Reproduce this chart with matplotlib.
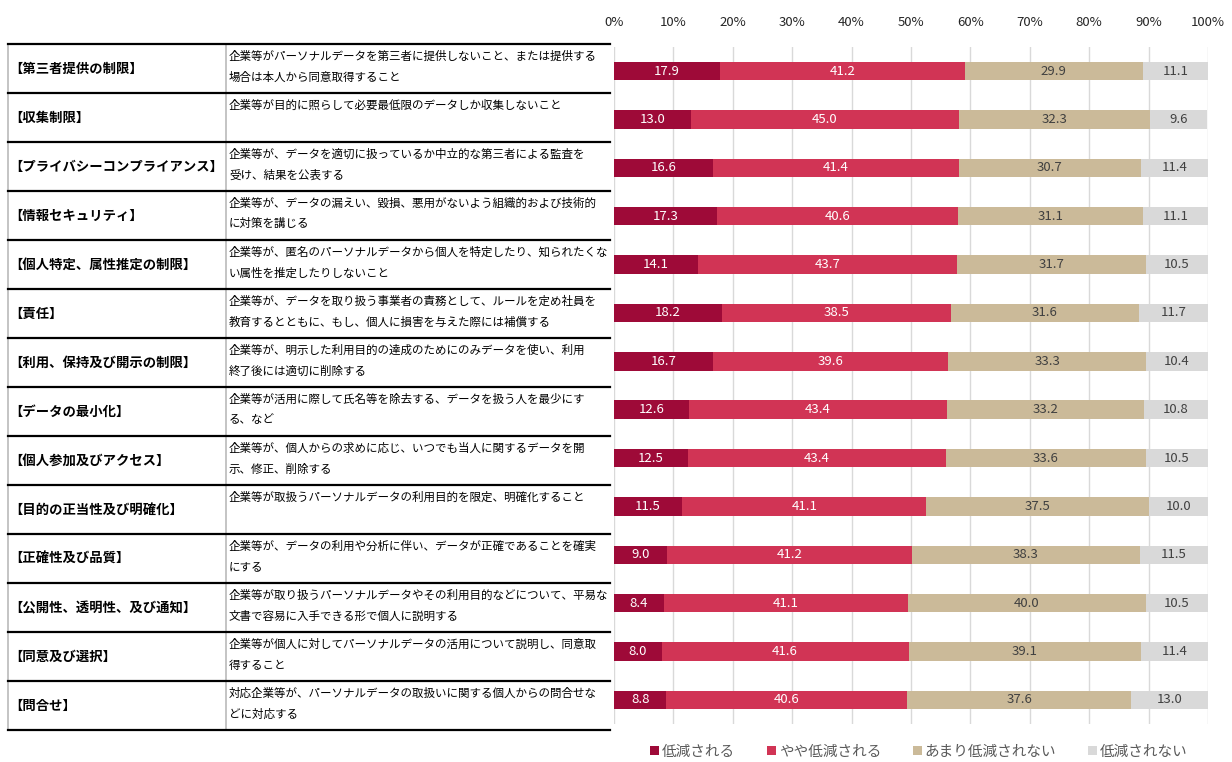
import matplotlib
matplotlib.use("Agg")
import matplotlib.pyplot as plt
from matplotlib.lines import Line2D
from matplotlib.patches import Patch
from matplotlib.ticker import FuncFormatter

plt.rcParams['font.family'] = ['Noto Sans CJK JP', 'DejaVu Sans']

# data
categories = [
    '【第三者提供の制限】', '【収集制限】', '【プライバシーコンプライアンス】', '【情報セキュリティ】',
    '【個人特定、属性推定の制限】', '【責任】', '【利用、保持及び開示の制限】', '【データの最小化】',
    '【個人参加及びアクセス】', '【目的の正当性及び明確化】', '【正確性及び品質】',
    '【公開性、透明性、及び通知】', '【同意及び選択】', '【問合せ】',
]
descriptions = [
    ['企業等がパーソナルデータを第三者に提供しないこと、または提供する', '場合は本人から同意取得すること'],
    ['企業等が目的に照らして必要最低限のデータしか収集しないこと'],
    ['企業等が、データを適切に扱っているか中立的な第三者による監査を', '受け、結果を公表する'],
    ['企業等が、データの漏えい、毀損、悪用がないよう組織的および技術的', 'に対策を講じる'],
    ['企業等が、匿名のパーソナルデータから個人を特定したり、知られたくな', 'い属性を推定したりしないこと'],
    ['企業等が、データを取り扱う事業者の責務として、ルールを定め社員を', '教育するとともに、もし、個人に損害を与えた際には補償する'],
    ['企業等が、明示した利用目的の達成のためにのみデータを使い、利用', '終了後には適切に削除する'],
    ['企業等が活用に際して氏名等を除去する、データを扱う人を最少にす', 'る、など'],
    ['企業等が、個人からの求めに応じ、いつでも当人に関するデータを開', '示、修正、削除する'],
    ['企業等が取扱うパーソナルデータの利用目的を限定、明確化すること'],
    ['企業等が、データの利用や分析に伴い、データが正確であることを確実', 'にする'],
    ['企業等が取り扱うパーソナルデータやその利用目的などについて、平易な', '文書で容易に入手できる形で個人に説明する'],
    ['企業等が個人に対してパーソナルデータの活用について説明し、同意取', '得すること'],
    ['対応企業等が、パーソナルデータの取扱いに関する個人からの問合せな', 'どに対応する'],
]
series_names = ['低減される', 'やや低減される', 'あまり低減されない', '低減されない']
reduced = [17.9, 13.0, 16.6, 17.3, 14.1, 18.2, 16.7, 12.6, 12.5, 11.5, 9.0, 8.4, 8.0, 8.8]
somewhat = [41.2, 45.0, 41.4, 40.6, 43.7, 38.5, 39.6, 43.4, 43.4, 41.1, 41.2, 41.1, 41.6, 40.6]
not_much = [29.9, 32.3, 30.7, 31.1, 31.7, 31.6, 33.3, 33.2, 33.6, 37.5, 38.3, 40.0, 39.1, 37.6]
not_reduced = [11.1, 9.6, 11.4, 11.1, 10.5, 11.7, 10.4, 10.8, 10.5, 10.0, 11.5, 10.5, 11.4, 13.0]
ticks = [0, 10, 20, 30, 40, 50, 60, 70, 80, 90, 100]

colors = ['#9E0A38', '#D13455', '#CBBA99', '#D9D9D9']
text_colors = ['white', 'white', '#404040', '#404040']

W, H = 1232, 762
fig = plt.figure(figsize=(W / 100, H / 100), dpi=100)
fig.patch.set_facecolor('white')


def fx(x):
    return x / W


def fy(y):
    return 1 - y / H


# bar area
ax = fig.add_axes([fx(614), fy(724), fx(1208) - fx(614), (724 - 47) / H])
n = len(categories)
ys = list(range(n))
left = [0.0] * n
for vals, col, tcol in zip([reduced, somewhat, not_much, not_reduced], colors, text_colors):
    ax.barh(ys, vals, left=left, height=0.38, color=col, zorder=2)
    for y, l, v in zip(ys, left, vals):
        ax.text(l + v / 2, y, f'{v:.1f}', ha='center', va='center', color=tcol,
                fontsize=9.5, zorder=3)
    left = [a + b for a, b in zip(left, vals)]

ax.set_xlim(0, 100)
ax.set_ylim(n - 0.5, -0.5)
ax.set_xticks(ticks)
ax.xaxis.set_major_formatter(FuncFormatter(lambda v, p: f'{int(v)}%'))
ax.xaxis.tick_top()
ax.tick_params(axis='x', length=0, pad=13, labelsize=9.5, colors='#262626')
ax.set_yticks([])
ax.grid(axis='x', color='#D9D9D9', linewidth=1, zorder=0)
for s in ax.spines.values():
    s.set_visible(False)

# table on the left
top, row_h = 44, 49
for i in range(n + 1):
    y = top + i * row_h
    fig.add_artist(Line2D([fx(8), fx(610)], [fy(y), fy(y)], color='black', linewidth=1.6))
for xv in [8, 226]:
    fig.add_artist(Line2D([fx(xv), fx(xv)], [fy(top), fy(top + n * row_h)],
                          color='#BFBFBF', linewidth=1.3, zorder=0))

for i, (cat, desc) in enumerate(zip(categories, descriptions)):
    rt = top + i * row_h
    fig.text(fx(9), fy(rt + 25), cat, ha='left', va='center', fontsize=9.6,
             fontweight='bold', color='black')
    for j, line in enumerate(desc):
        fig.text(fx(229), fy(rt + 12 + j * 21), line, ha='left', va='center',
                 fontsize=8.3, color='black')

# legend
handles = [Patch(facecolor=c, edgecolor='none') for c in colors]
fig.legend(handles, series_names, loc='center', bbox_to_anchor=(fx(919), fy(752)),
           ncol=4, frameon=False, fontsize=10.5, handlelength=0.6, handleheight=0.6,
           handletextpad=0.2, columnspacing=2.2, labelcolor='#595959')

fig.savefig('out.png', dpi=100, facecolor='white')
